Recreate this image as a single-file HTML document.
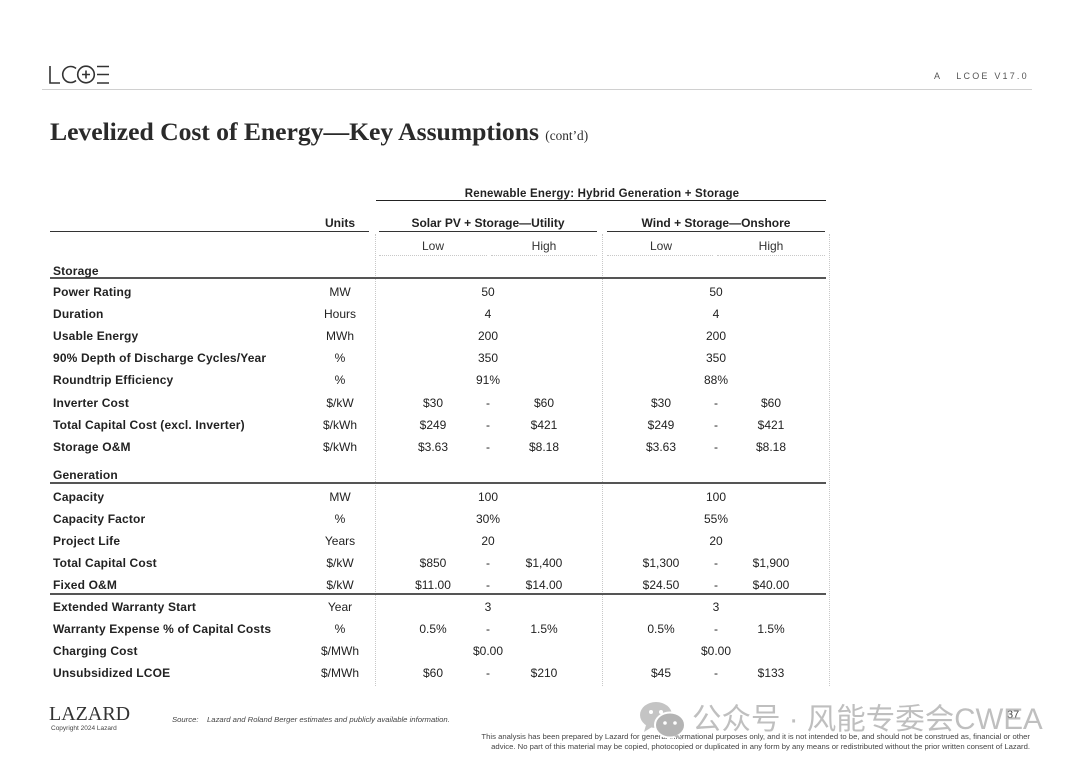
<!DOCTYPE html>
<html><head><meta charset="utf-8">
<style>
*{margin:0;padding:0;box-sizing:border-box}
html,body{width:1080px;height:764px;background:#fff;overflow:hidden}
body{position:relative;font-family:"Liberation Sans",Arial,sans-serif;color:#222}
.a{position:absolute;white-space:nowrap}
.t{position:absolute;font-size:12px;line-height:14px;white-space:nowrap}
.lb{left:53px;font-weight:bold;letter-spacing:0.15px}
.u{left:300px;width:80px;text-align:center}
.c{width:80px;text-align:center;margin-left:-40px}
.hl{position:absolute;height:0}
.vl{position:absolute;width:0;border-left:1px dotted #c8c8c8;top:234px;height:452px}
</style></head><body>

<!-- logo -->
<svg class="a" style="left:48px;top:64px" width="66" height="22" viewBox="0 0 66 22">
 <g fill="none" stroke="#333" stroke-width="1.6">
  <path d="M2 2 V19 H12"/>
  <path d="M28 4.5 A8 8 0 1 0 28 16.5"/>
  <circle cx="38" cy="10.5" r="8.3"/>
  <path d="M38 6.5 V14.5 M34 10.5 H42"/>
  <path d="M49 2.5 H61 M49 10.5 H61 M49 19 H61"/>
 </g>
</svg>
<div class="hl" style="left:42px;width:990px;top:89px;border-top:1px solid #d0d0d0"></div>
<div class="a" style="left:934px;top:71px;font-size:9px;letter-spacing:2.2px;color:#555">A&nbsp;&nbsp;&nbsp;LCOE V17.0</div>

<!-- title -->
<div class="a" style="left:50px;top:117px;font-family:'Liberation Serif',serif;font-weight:bold;font-size:25.7px;color:#2a2a2a;letter-spacing:-0.05px">Levelized Cost of Energy—Key Assumptions <span style="font-weight:normal;font-size:13.3px;letter-spacing:0">(cont’d)</span></div>

<!-- headers -->
<div class="a" style="left:376px;width:452px;top:188px;text-align:center;font-size:11.5px;font-weight:bold;letter-spacing:0.2px">Renewable Energy: Hybrid Generation + Storage</div>
<div class="hl" style="left:376px;width:450px;top:200px;border-top:1.5px solid #222"></div>

<div class="t" style="left:300px;width:80px;text-align:center;top:216px;font-weight:bold">Units</div>
<div class="hl" style="left:50px;width:319px;top:231px;border-top:1.5px solid #333"></div>
<div class="t" style="left:379px;width:218px;text-align:center;top:216px;font-weight:bold">Solar PV + Storage—Utility</div>
<div class="hl" style="left:379px;width:218px;top:231px;border-top:1.5px solid #333"></div>
<div class="t" style="left:607px;width:218px;text-align:center;top:216px;font-weight:bold">Wind + Storage—Onshore</div>
<div class="hl" style="left:607px;width:218px;top:231px;border-top:1.5px solid #333"></div>

<div class="t c" style="left:433px;top:239px;color:#333">Low</div>
<div class="t c" style="left:544px;top:239px;color:#333">High</div>
<div class="t c" style="left:661px;top:239px;color:#333">Low</div>
<div class="t c" style="left:771px;top:239px;color:#333">High</div>
<div class="hl" style="left:379px;width:108px;top:255px;border-top:1px dotted #c8c8c8"></div>
<div class="hl" style="left:491px;width:106px;top:255px;border-top:1px dotted #c8c8c8"></div>
<div class="hl" style="left:607px;width:106px;top:255px;border-top:1px dotted #c8c8c8"></div>
<div class="hl" style="left:717px;width:108px;top:255px;border-top:1px dotted #c8c8c8"></div>

<div class="vl" style="left:375px"></div>
<div class="vl" style="left:602px"></div>
<div class="vl" style="left:829px"></div>

<!-- section lines -->
<div class="hl" style="left:50px;width:776px;top:277px;border-top:2px solid #555"></div>
<div class="hl" style="left:50px;width:776px;top:482px;border-top:2px solid #555"></div>
<div class="hl" style="left:50px;width:776px;top:593px;border-top:2px solid #555"></div>

<!-- Storage -->
<div class="t lb" style="top:264px">Storage</div>

<div class="t lb" style="top:285px">Power Rating</div><div class="t u" style="top:285px">MW</div>
<div class="t c" style="left:488px;top:285px">50</div><div class="t c" style="left:716px;top:285px">50</div>

<div class="t lb" style="top:307px">Duration</div><div class="t u" style="top:307px">Hours</div>
<div class="t c" style="left:488px;top:307px">4</div><div class="t c" style="left:716px;top:307px">4</div>

<div class="t lb" style="top:329px">Usable Energy</div><div class="t u" style="top:329px">MWh</div>
<div class="t c" style="left:488px;top:329px">200</div><div class="t c" style="left:716px;top:329px">200</div>

<div class="t lb" style="top:351px">90% Depth of Discharge Cycles/Year</div><div class="t u" style="top:351px">%</div>
<div class="t c" style="left:488px;top:351px">350</div><div class="t c" style="left:716px;top:351px">350</div>

<div class="t lb" style="top:373px">Roundtrip Efficiency</div><div class="t u" style="top:373px">%</div>
<div class="t c" style="left:488px;top:373px">91%</div><div class="t c" style="left:716px;top:373px">88%</div>

<div class="t lb" style="top:396px">Inverter Cost</div><div class="t u" style="top:396px">$/kW</div>
<div class="t c" style="left:433px;top:396px">$30</div><div class="t c" style="left:488px;top:396px">-</div><div class="t c" style="left:544px;top:396px">$60</div>
<div class="t c" style="left:661px;top:396px">$30</div><div class="t c" style="left:716px;top:396px">-</div><div class="t c" style="left:771px;top:396px">$60</div>

<div class="t lb" style="top:418px">Total Capital Cost (excl. Inverter)</div><div class="t u" style="top:418px">$/kWh</div>
<div class="t c" style="left:433px;top:418px">$249</div><div class="t c" style="left:488px;top:418px">-</div><div class="t c" style="left:544px;top:418px">$421</div>
<div class="t c" style="left:661px;top:418px">$249</div><div class="t c" style="left:716px;top:418px">-</div><div class="t c" style="left:771px;top:418px">$421</div>

<div class="t lb" style="top:440px">Storage O&amp;M</div><div class="t u" style="top:440px">$/kWh</div>
<div class="t c" style="left:433px;top:440px">$3.63</div><div class="t c" style="left:488px;top:440px">-</div><div class="t c" style="left:544px;top:440px">$8.18</div>
<div class="t c" style="left:661px;top:440px">$3.63</div><div class="t c" style="left:716px;top:440px">-</div><div class="t c" style="left:771px;top:440px">$8.18</div>

<!-- Generation -->
<div class="t lb" style="top:468px">Generation</div>

<div class="t lb" style="top:490px">Capacity</div><div class="t u" style="top:490px">MW</div>
<div class="t c" style="left:488px;top:490px">100</div><div class="t c" style="left:716px;top:490px">100</div>

<div class="t lb" style="top:512px">Capacity Factor</div><div class="t u" style="top:512px">%</div>
<div class="t c" style="left:488px;top:512px">30%</div><div class="t c" style="left:716px;top:512px">55%</div>

<div class="t lb" style="top:534px">Project Life</div><div class="t u" style="top:534px">Years</div>
<div class="t c" style="left:488px;top:534px">20</div><div class="t c" style="left:716px;top:534px">20</div>

<div class="t lb" style="top:556px">Total Capital Cost</div><div class="t u" style="top:556px">$/kW</div>
<div class="t c" style="left:433px;top:556px">$850</div><div class="t c" style="left:488px;top:556px">-</div><div class="t c" style="left:544px;top:556px">$1,400</div>
<div class="t c" style="left:661px;top:556px">$1,300</div><div class="t c" style="left:716px;top:556px">-</div><div class="t c" style="left:771px;top:556px">$1,900</div>

<div class="t lb" style="top:578px">Fixed O&amp;M</div><div class="t u" style="top:578px">$/kW</div>
<div class="t c" style="left:433px;top:578px">$11.00</div><div class="t c" style="left:488px;top:578px">-</div><div class="t c" style="left:544px;top:578px">$14.00</div>
<div class="t c" style="left:661px;top:578px">$24.50</div><div class="t c" style="left:716px;top:578px">-</div><div class="t c" style="left:771px;top:578px">$40.00</div>

<div class="t lb" style="top:600px">Extended Warranty Start</div><div class="t u" style="top:600px">Year</div>
<div class="t c" style="left:488px;top:600px">3</div><div class="t c" style="left:716px;top:600px">3</div>

<div class="t lb" style="top:622px">Warranty Expense % of Capital Costs</div><div class="t u" style="top:622px">%</div>
<div class="t c" style="left:433px;top:622px">0.5%</div><div class="t c" style="left:488px;top:622px">-</div><div class="t c" style="left:544px;top:622px">1.5%</div>
<div class="t c" style="left:661px;top:622px">0.5%</div><div class="t c" style="left:716px;top:622px">-</div><div class="t c" style="left:771px;top:622px">1.5%</div>

<div class="t lb" style="top:644px">Charging Cost</div><div class="t u" style="top:644px">$/MWh</div>
<div class="t c" style="left:488px;top:644px">$0.00</div><div class="t c" style="left:716px;top:644px">$0.00</div>

<div class="t lb" style="top:666px">Unsubsidized LCOE</div><div class="t u" style="top:666px">$/MWh</div>
<div class="t c" style="left:433px;top:666px">$60</div><div class="t c" style="left:488px;top:666px">-</div><div class="t c" style="left:544px;top:666px">$210</div>
<div class="t c" style="left:661px;top:666px">$45</div><div class="t c" style="left:716px;top:666px">-</div><div class="t c" style="left:771px;top:666px">$133</div>

<!-- footer -->
<div class="a" style="left:49px;top:703px;font-family:'Liberation Serif',serif;font-size:20px;line-height:22px;color:#333">LAZARD</div>
<div class="a" style="left:51px;top:725px;font-size:6.5px;color:#444">Copyright 2024 Lazard</div>
<div class="a" style="left:172px;top:715px;font-size:7.7px;font-style:italic;color:#444">Source:&nbsp;&nbsp;&nbsp;&nbsp;Lazard and Roland Berger estimates and publicly available information.</div>
<div class="a" style="left:1007px;top:709px;font-size:11px;color:#444">37</div>
<div class="a" style="right:50px;top:732px;font-size:7.7px;line-height:9.5px;text-align:right;color:#444">This analysis has been prepared by Lazard for general informational purposes only, and it is not intended to be, and should not be construed as, financial or other<br>advice. No part of this material may be copied, photocopied or duplicated in any form by any means or redistributed without the prior written consent of Lazard.</div>

<!-- watermark -->
<svg class="a" style="left:638px;top:699px" width="52" height="42" viewBox="0 0 52 42">
 <ellipse cx="18" cy="16" rx="16" ry="13" fill="#c4c4c4"/>
 <path d="M8 26 L6 33 L14 28 Z" fill="#c4c4c4"/>
 <ellipse cx="32" cy="26" rx="15" ry="12.5" fill="#b4b4b4" stroke="#fff" stroke-width="2"/>
 <path d="M40 36 L44 41 L36 37 Z" fill="#b4b4b4"/>
 <circle cx="13" cy="13" r="2" fill="#fff"/><circle cx="23" cy="13" r="2" fill="#fff"/>
 <circle cx="27" cy="24" r="1.8" fill="#fff"/><circle cx="37" cy="24" r="1.8" fill="#fff"/>
</svg>
<div class="a" style="left:692px;top:702px;font-family:'Liberation Sans','Noto Sans CJK SC',sans-serif;font-size:29.5px;line-height:36px;color:rgba(170,170,170,0.75)">公众号 · 风能专委会CWEA</div>
</body></html>
